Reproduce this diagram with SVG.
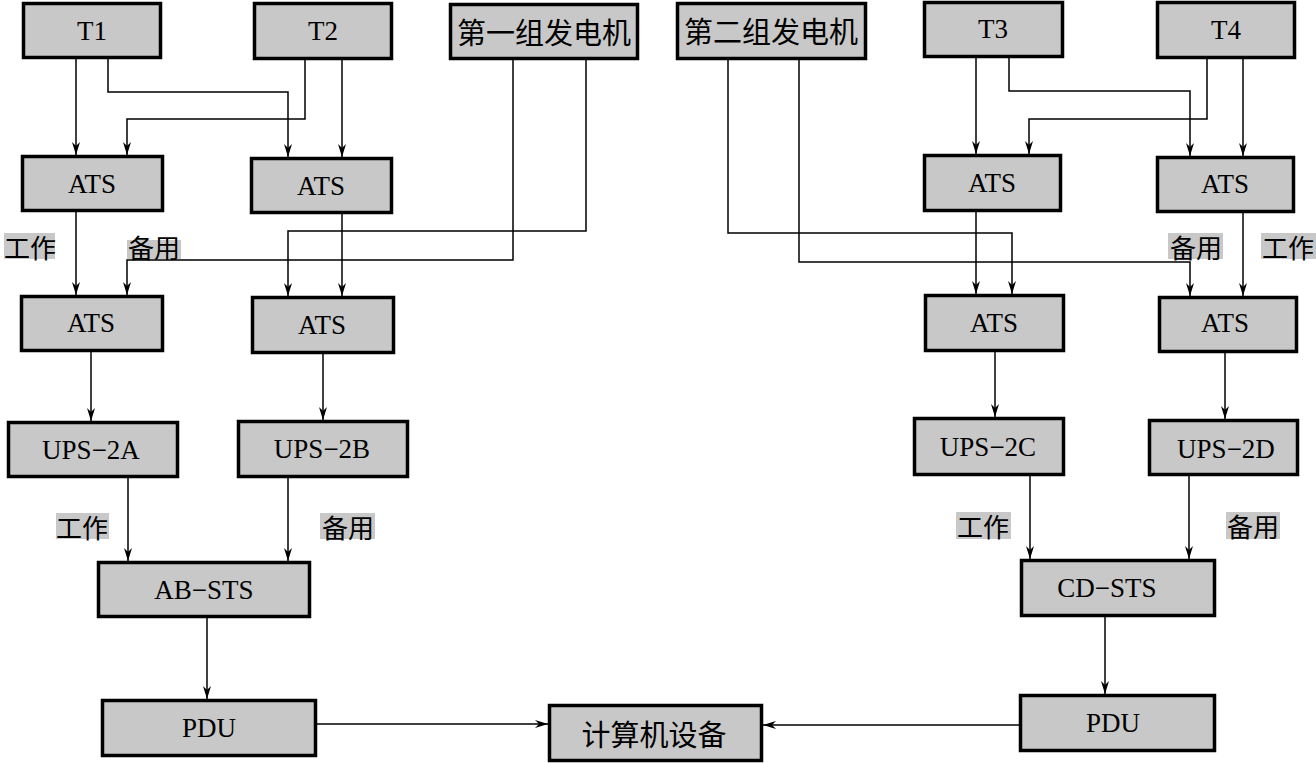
<svg xmlns="http://www.w3.org/2000/svg" width="1316" height="763" viewBox="0 0 1316 763">
<style>
.box{fill:#c8c8c8;stroke:#000;stroke-width:3.5}
.t{font-family:"Liberation Serif","Noto Sans CJK SC",serif;font-size:27px;text-anchor:middle;dominant-baseline:central;fill:#000}
.cn{font-family:"Noto Sans CJK SC","Liberation Serif",serif;font-size:29px;text-anchor:middle;dominant-baseline:central;fill:#000}
.lb{font-family:"Noto Sans CJK SC",serif;font-size:26px;text-anchor:middle;dominant-baseline:central;fill:#000}
.lbg{fill:#c8c8c8}
.c path{fill:none;stroke:#000;stroke-width:1.5;marker-end:url(#ar)}
</style>
<defs>
<marker id="ar" markerUnits="userSpaceOnUse" markerWidth="14" markerHeight="10" refX="13" refY="4" orient="auto">
<path d="M0,0 L13,4 L0,8 L4,4 z" fill="#000"/>
</marker>
</defs>
<rect width="1316" height="763" fill="#fff"/>
<g id="connectors" class="c">
<path d="M76,59 V155"/>
<path d="M108,59 V92 H288 V157"/>
<path d="M305,60 V119 H127 V155"/>
<path d="M342,60 V157"/>
<path d="M513,60 V260 H127 V295"/>
<path d="M586,60 V231 H288 V296"/>
<path d="M76,212 V295"/>
<path d="M342,214 V296"/>
<path d="M91,352 V421"/>
<path d="M323,354 V420"/>
<path d="M128,478 V561"/>
<path d="M288,478 V561"/>
<path d="M207,618 V699"/>
<path d="M317,724 H548"/>
<path d="M1019,725 H763"/>
<path d="M1105,617 V694"/>
<path d="M1030,476 V559"/>
<path d="M1189,476 V559"/>
<path d="M995,352 V417"/>
<path d="M1225,353 V419"/>
<path d="M976,212 V294"/>
<path d="M1243,213 V296"/>
<path d="M976,58 V154"/>
<path d="M1009,58 V91 H1190 V156"/>
<path d="M1207,59 V119 H1029 V154"/>
<path d="M1243,59 V156"/>
<path d="M728,60 V233 H1012 V294"/>
<path d="M799,60 V262 H1190 V296"/>
</g>
<g id="T1"><rect class="box" x="23.5" y="3.5" width="137" height="54"/><text class="t" x="92" y="31">T1</text></g>
<g id="T2"><rect class="box" x="254.5" y="3.5" width="137" height="55"/><text class="t" x="323" y="31">T2</text></g>
<g id="gen1"><rect class="box" x="450.5" y="4.5" width="187" height="54"/><text class="cn" x="544" y="31">第一组发电机</text></g>
<g id="gen2"><rect class="box" x="677.5" y="3.5" width="188" height="55"/><text class="cn" x="771" y="30">第二组发电机</text></g>
<g id="T3"><rect class="box" x="924.5" y="2.5" width="138" height="54"/><text class="t" x="993" y="29">T3</text></g>
<g id="T4"><rect class="box" x="1157.5" y="2.5" width="137" height="55"/><text class="t" x="1226" y="30">T4</text></g>
<g id="ATS1"><rect class="box" x="22.5" y="156.5" width="140" height="54"/><text class="t" x="92" y="184">ATS</text></g>
<g id="ATS2"><rect class="box" x="251.5" y="158.5" width="140" height="54"/><text class="t" x="321" y="186">ATS</text></g>
<g id="ATS5"><rect class="box" x="924.5" y="155.5" width="136" height="55"/><text class="t" x="992" y="183">ATS</text></g>
<g id="ATS6"><rect class="box" x="1157.5" y="157.5" width="136" height="54"/><text class="t" x="1225" y="184">ATS</text></g>
<g id="ATS3"><rect class="box" x="21.5" y="296.5" width="141" height="54"/><text class="t" x="91" y="323">ATS</text></g>
<g id="ATS4"><rect class="box" x="252.5" y="297.5" width="141" height="55"/><text class="t" x="322" y="325">ATS</text></g>
<g id="ATS7"><rect class="box" x="925.5" y="295.5" width="138" height="55"/><text class="t" x="994" y="323">ATS</text></g>
<g id="ATS8"><rect class="box" x="1159.5" y="297.5" width="137" height="54"/><text class="t" x="1225" y="323">ATS</text></g>
<g id="UPS2A"><rect class="box" x="8.5" y="422.5" width="169" height="54"/><text class="t" x="91" y="450">UPS−2A</text></g>
<g id="UPS2B"><rect class="box" x="238.5" y="421.5" width="169" height="55"/><text class="t" x="322" y="449">UPS−2B</text></g>
<g id="UPS2C"><rect class="box" x="914.5" y="418.5" width="149" height="56"/><text class="t" x="988" y="447">UPS−2C</text></g>
<g id="UPS2D"><rect class="box" x="1149.5" y="420.5" width="148" height="54"/><text class="t" x="1226" y="449">UPS−2D</text></g>
<g id="ABSTS"><rect class="box" x="98.5" y="562.5" width="211" height="54"/><text class="t" x="204" y="590">AB−STS</text></g>
<g id="CDSTS"><rect class="box" x="1021.5" y="560.5" width="193" height="55"/><text class="t" x="1107" y="588">CD−STS</text></g>
<g id="PDU1"><rect class="box" x="102.5" y="700.5" width="213" height="55"/><text class="t" x="209" y="728">PDU</text></g>
<g id="computer"><rect class="box" x="549.5" y="705.5" width="212" height="55"/><text class="cn" x="654" y="733">计算机设备</text></g>
<g id="PDU2"><rect class="box" x="1020.5" y="695.5" width="194" height="55"/><text class="t" x="1113" y="723">PDU</text></g>
<g id="labels">
<rect class="lbg" x="4" y="233" width="51" height="26"/><text class="lb" x="30" y="246">工作</text>
<rect class="lbg" x="127" y="240" width="54" height="19"/><text class="lb" x="154" y="246">备用</text>
<rect class="lbg" x="1168" y="233" width="55" height="26"/><text class="lb" x="1196" y="246">备用</text>
<rect class="lbg" x="1261" y="233" width="55" height="26"/><text class="lb" x="1288" y="246">工作</text>
<rect class="lbg" x="56" y="513" width="53" height="26"/><text class="lb" x="82" y="526">工作</text>
<rect class="lbg" x="320" y="513" width="55" height="26"/><text class="lb" x="348" y="526">备用</text>
<rect class="lbg" x="956" y="512" width="55" height="27"/><text class="lb" x="983" y="525">工作</text>
<rect class="lbg" x="1226" y="512" width="54" height="27"/><text class="lb" x="1253" y="525">备用</text>
</g>
</svg>
